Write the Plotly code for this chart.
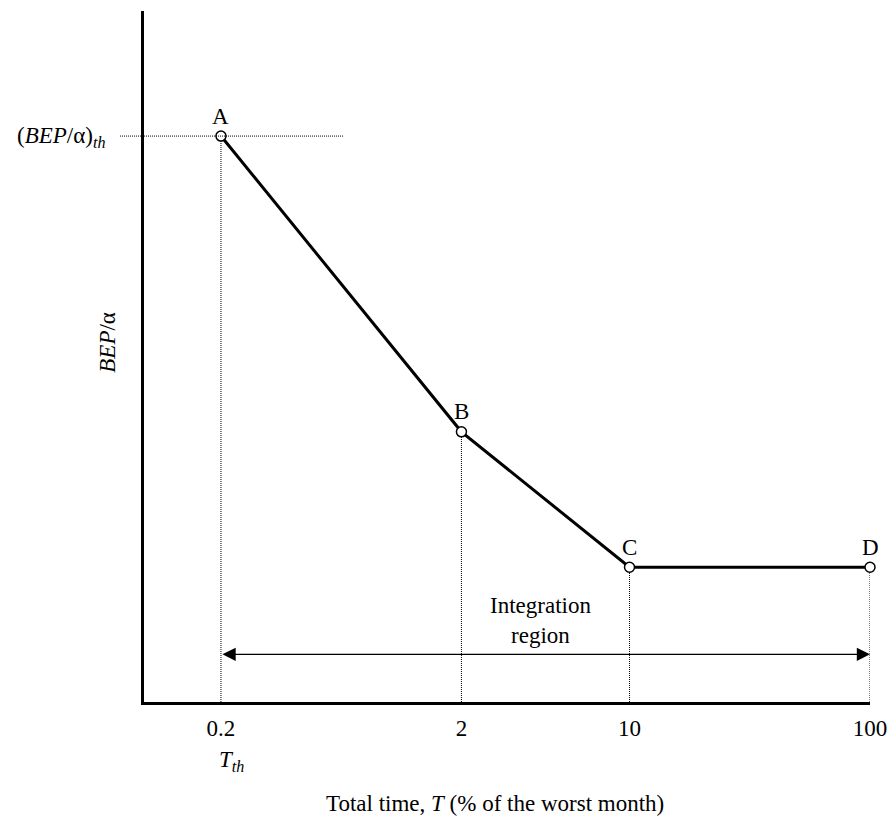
import math
import plotly.graph_objects as go

# ---- data ----
point_labels = ["A", "B", "C", "D"]
time_pct = [0.2, 2, 10, 100]          # Total time, T (% of worst month)
bep_alpha = [81.9, 39.1, 19.5, 19.5]  # BEP/alpha (relative units)
tick_vals = [0.2, 2, 10, 100]
tick_text = ["0.2", "2", "10", "100"]
x_range_log = [-1.019, 2.0]
y_range = [0, 100]
arrow_level = 6.9                     # level of the integration-region arrow
region_label_pos = (4.25, 11.8)       # (T, BEP/alpha) centre of "Integration region"
threshold_line_end = 0.65             # T where the dotted threshold line stops

FONT = "Liberation Serif, Times New Roman, serif"
FS = 23

fig = go.Figure()

# dotted drop lines from each point to the x axis
for t, v in zip(time_pct, bep_alpha):
    fig.add_trace(go.Scatter(
        x=[t, t], y=[y_range[0], v], mode="lines",
        line=dict(color="black", width=1, dash="1px,1px"),
        hoverinfo="skip", showlegend=False, cliponaxis=False))

# main curve
fig.add_trace(go.Scatter(
    x=time_pct, y=bep_alpha, mode="lines+markers",
    line=dict(color="black", width=3),
    marker=dict(size=10, color="white", line=dict(color="black", width=1.5)),
    showlegend=False, cliponaxis=False))


def xpaper(t):
    return (math.log10(t) - x_range_log[0]) / (x_range_log[1] - x_range_log[0])


def ypaper(v):
    return (v - y_range[0]) / (y_range[1] - y_range[0])


# horizontal dotted threshold line (extends left of the axis)
fig.add_shape(type="line", xref="paper", yref="paper",
              x0=-0.033, x1=xpaper(threshold_line_end),
              y0=ypaper(bep_alpha[0]), y1=ypaper(bep_alpha[0]),
              line=dict(color="black", width=1, dash="1px,1px"))

annotations = []
# point labels
for lab, t, v in zip(point_labels, time_pct, bep_alpha):
    annotations.append(dict(x=math.log10(t), y=v, xref="x", yref="y", text=lab,
                            showarrow=False, yshift=20,
                            font=dict(family=FONT, size=FS, color="black")))

# integration region arrow
annotations.append(dict(x=math.log10(time_pct[-1]), y=arrow_level,
                        ax=math.log10(time_pct[0]), ay=arrow_level,
                        xref="x", yref="y", axref="x", ayref="y",
                        text="", showarrow=True, arrowhead=2, arrowside="end+start",
                        arrowsize=2.2, arrowwidth=1.2, arrowcolor="black", standoff=0,
                        startstandoff=0, startarrowhead=2, startarrowsize=2.2))
annotations.append(dict(x=math.log10(region_label_pos[0]), y=region_label_pos[1],
                        xref="x", yref="y", text="Integration<br>region",
                        showarrow=False, align="center",
                        font=dict(family=FONT, size=FS, color="black")))

# threshold label on y side
annotations.append(dict(x=0, y=bep_alpha[0], xref="paper", yref="y",
                        text="(<i>BEP</i>/α)<sub><i>th</i></sub>",
                        showarrow=False, xanchor="right", yanchor="middle",
                        xshift=-37, yshift=-1,
                        font=dict(family=FONT, size=FS, color="black")))
# y-axis title
annotations.append(dict(x=0, y=0.52, xref="paper", yref="paper",
                        text="<i>BEP</i>/α", textangle=-90, showarrow=False,
                        xanchor="center", yanchor="middle", xshift=-36,
                        font=dict(family=FONT, size=FS, color="black")))
# T_th under first tick
annotations.append(dict(x=math.log10(time_pct[0]), y=0, xref="x", yref="paper",
                        text="<i>T</i><sub><i>th</i></sub>", showarrow=False,
                        xanchor="center", yanchor="middle",
                        xshift=11, yshift=-59,
                        font=dict(family=FONT, size=FS, color="black")))
# x-axis title
annotations.append(dict(x=0.483, y=0, xref="paper", yref="paper",
                        text="Total time, <i>T</i> (% of the worst month)",
                        showarrow=False, xanchor="center", yanchor="middle",
                        yshift=-101,
                        font=dict(family=FONT, size=FS, color="black")))

fig.update_layout(
    width=889, height=816,
    margin=dict(l=144, r=19, t=11, b=114),
    paper_bgcolor="white", plot_bgcolor="white",
    showlegend=False,
    annotations=annotations,
    font=dict(family=FONT, size=FS, color="black"),
    xaxis=dict(type="log", range=x_range_log, showgrid=False, zeroline=False,
               showline=True, linecolor="black", linewidth=3, automargin=False,
               tickmode="array", tickvals=tick_vals, ticktext=tick_text,
               ticks="", ticklabelstandoff=3,
               tickfont=dict(family=FONT, size=FS, color="black")),
    yaxis=dict(range=y_range, showgrid=False, zeroline=False, automargin=False,
               showline=True, linecolor="black", linewidth=3,
               showticklabels=False, ticks=""),
)

fig.write_html("out.html", config={"displayModeBar": False},
               post_script="document.body.style.margin='0';document.body.style.overflow='hidden';")
